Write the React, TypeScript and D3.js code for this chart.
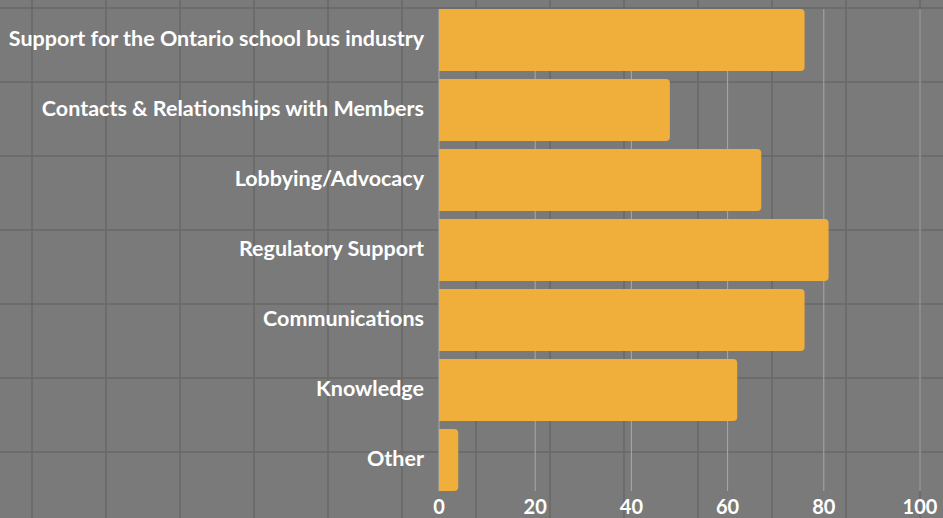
import React from "react";
import * as d3 from "d3";

const categories = [
  "Support for the Ontario school bus industry",
  "Contacts & Relationships with Members",
  "Lobbying/Advocacy",
  "Regulatory Support",
  "Communications",
  "Knowledge",
  "Other",
];
const values = [76, 48, 67, 81, 76, 62, 4];
const xTicks = [0, 20, 40, 60, 80, 100];

const width = 943;
const height = 518;
const margin = { top: 9, right: 23, bottom: 27, left: 439 };
const barColor = "#f0ae3b";
const bg = "#7a7a7a";
const font = "Lato, 'Open Sans', sans-serif";

// bar with rounded right end only
function barPath(x0: number, y0: number, w: number, h: number, r: number) {
  const rr = Math.min(r, w / 2, h / 2);
  return `M${x0},${y0}H${x0 + w - rr}Q${x0 + w},${y0} ${x0 + w},${y0 + rr}V${y0 + h - rr}Q${x0 + w},${y0 + h} ${x0 + w - rr},${y0 + h}H${x0}Z`;
}

function Chart() {
  const ref = React.useRef<SVGSVGElement>(null);

  React.useEffect(() => {
    const svg = d3.select(ref.current);
    svg.selectAll("*").remove();

    const x = d3
      .scaleLinear()
      .domain([0, 100])
      .range([margin.left, width - margin.right]);

    const y = d3
      .scaleBand()
      .domain(categories)
      .range([margin.top, height - margin.bottom])
      .paddingInner(0.115)
      .paddingOuter(0);

    // backdrop with a dark square grid
    svg.append("rect").attr("width", width).attr("height", height).attr("fill", bg);
    const cell = 74;
    const bgGrid = svg.append("g").attr("stroke", "#686868").attr("stroke-width", 1.5);
    bgGrid
      .selectAll("line.v")
      .data(d3.range(32, width, cell))
      .join("line")
      .attr("x1", (d) => d)
      .attr("x2", (d) => d)
      .attr("y1", 0)
      .attr("y2", height);
    bgGrid
      .selectAll("line.h")
      .data(d3.range(8, height, cell))
      .join("line")
      .attr("x1", 0)
      .attr("x2", width)
      .attr("y1", (d) => d)
      .attr("y2", (d) => d);

    // value gridlines
    svg
      .append("g")
      .selectAll("line")
      .data(xTicks)
      .join("line")
      .attr("x1", (d) => x(d))
      .attr("x2", (d) => x(d))
      .attr("y1", margin.top)
      .attr("y2", height - margin.bottom)
      .attr("stroke", "#a9a9a9")
      .attr("stroke-width", 1);

    // bars
    svg
      .append("g")
      .selectAll("path")
      .data(categories)
      .join("path")
      .attr("d", (d, i) =>
        barPath(x(0), y(d)!, x(values[i]) - x(0), y.bandwidth(), 4)
      )
      .attr("fill", barColor);

    // category labels
    svg
      .append("g")
      .selectAll("text")
      .data(categories)
      .join("text")
      .attr("x", x(0) - 15)
      .attr("y", (d) => y(d)! + y.bandwidth() / 2 - 2)
      .attr("dy", "0.35em")
      .attr("text-anchor", "end")
      .attr("fill", "#ffffff")
      .attr("font-family", font)
      .attr("font-weight", 700)
      .attr("font-size", 21.5)
      .text((d) => d);

    // x tick labels
    svg
      .append("g")
      .selectAll("text")
      .data(xTicks)
      .join("text")
      .attr("x", (d) => x(d))
      .attr("y", 514)
      .attr("text-anchor", "middle")
      .attr("fill", "#ffffff")
      .attr("font-family", font)
      .attr("font-weight", 700)
      .attr("font-size", 20)
      .text((d) => d);
  }, []);

  return <svg ref={ref} width={width} height={height} style={{ display: "block" }} />;
}

export default function App() {
  return (
    <div style={{ position: "fixed", left: 0, top: 0 }}>
      <Chart />
    </div>
  );
}
